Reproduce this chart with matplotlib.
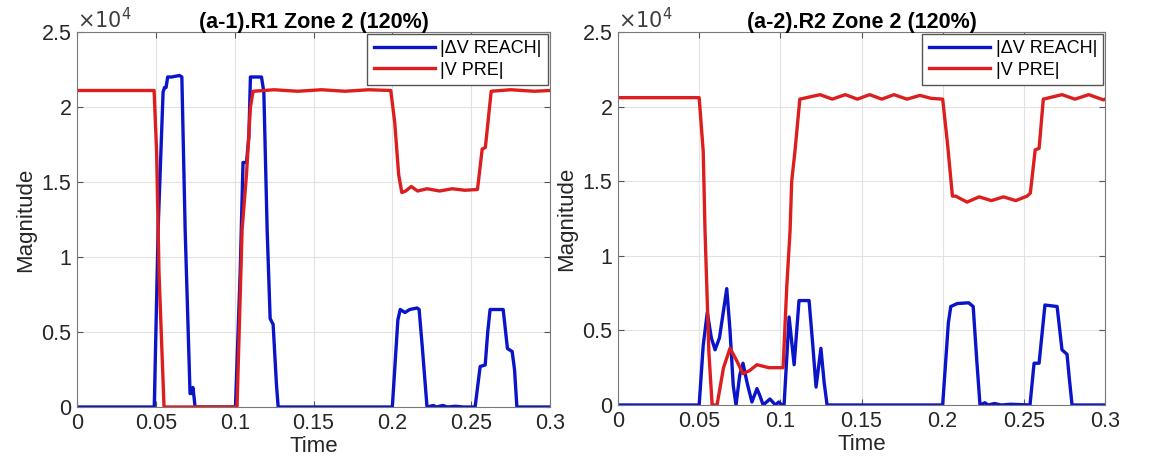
import matplotlib
matplotlib.use('Agg')
from matplotlib import pyplot as plt
from matplotlib.ticker import FuncFormatter

plt.rcParams['font.family'] = ['Liberation Sans', 'DejaVu Sans']

# (a-1) R1 zone 2
t_reach_1 = [0, 0.049, 0.0515, 0.0546, 0.0555, 0.0565, 0.0575, 0.060, 0.065, 0.0665,
             0.0686, 0.0717, 0.0728, 0.0735, 0.0742, 0.0749, 0.1005, 0.1035, 0.1053,
             0.1075, 0.109, 0.110, 0.117, 0.1185, 0.1206, 0.1225, 0.1244, 0.1265, 0.1276,
             0.200, 0.2035, 0.205, 0.208, 0.211, 0.2157, 0.217, 0.219, 0.222, 0.226, 0.228,
             0.232, 0.235, 0.240, 0.245, 0.2525, 0.2557, 0.2589, 0.2605, 0.262, 0.2703,
             0.273, 0.276, 0.2775, 0.279, 0.3]
v_reach_1 = [0, 0, 12000, 21000, 21300, 21300, 22000, 22000, 22100, 22000,
             11800, 900, 900, 1300, 700, 0, 0, 9000, 16300,
             16300, 18000, 22000, 22000, 21000, 11800, 5900, 5500, 1500, 0,
             0, 5800, 6500, 6300, 6500, 6600, 6500, 4000, 0, 100, 0,
             100, 0, 50, 0, 0, 2700, 2800, 5000, 6500, 6500,
             3900, 3700, 2500, 0, 0]

t_pre_1 = [0, 0.0489, 0.0505, 0.052, 0.0552, 0.1015, 0.1047, 0.1075, 0.110, 0.1117,
           0.125, 0.14, 0.155, 0.17, 0.185, 0.199, 0.2015, 0.204, 0.206, 0.2085,
           0.212, 0.216, 0.222, 0.230, 0.238, 0.246, 0.254, 0.257, 0.259, 0.2627,
           0.275, 0.29, 0.3]
v_pre_1 = [21100, 21100, 17000, 9000, 0, 0, 11800, 15500, 20000, 21050,
           21150, 21050, 21150, 21050, 21150, 21100, 19000, 15500, 14300, 14400,
           14700, 14400, 14550, 14400, 14550, 14450, 14500, 17200, 17300, 21050,
           21150, 21050, 21100]

# (a-2) R2 zone 2
t_reach_2 = [0, 0.050, 0.0525, 0.055, 0.0575, 0.0598, 0.0625, 0.067, 0.069, 0.071,
             0.0727, 0.075, 0.077, 0.0795, 0.0825, 0.0856, 0.0875, 0.0894, 0.0936,
             0.097, 0.099, 0.101, 0.1023, 0.1054, 0.1085, 0.1115, 0.1177, 0.120, 0.122,
             0.125, 0.127, 0.1288, 0.200, 0.2035, 0.205, 0.209, 0.216, 0.2188, 0.221,
             0.223, 0.226, 0.228, 0.232, 0.236, 0.242, 0.2538, 0.2563, 0.2594, 0.263,
             0.2705, 0.2735, 0.2766, 0.278, 0.2797, 0.3]
v_reach_2 = [0, 0, 4000, 6200, 4500, 3700, 4500, 7800, 5000, 1300,
             0, 2000, 2800, 1500, 200, 1100, 600, 0, 400,
             0, 200, 0, 0, 5900, 2700, 7000, 7000, 4000, 1200,
             3800, 1500, 0, 0, 5500, 6600, 6800, 6850, 6600, 3000,
             0, 150, 0, 100, 0, 50, 0, 2800, 2800, 6700,
             6600, 3700, 3400, 1800, 0, 0]

t_pre_2 = [0, 0.050, 0.0525, 0.0536, 0.056, 0.058, 0.061, 0.065, 0.069, 0.073,
           0.077, 0.081, 0.0856, 0.093, 0.1017, 0.104, 0.106, 0.107, 0.109, 0.112,
           0.1245, 0.132, 0.140, 0.1475, 0.155, 0.1625, 0.170, 0.178, 0.186, 0.193,
           0.2, 0.203, 0.206, 0.208, 0.215, 0.2225, 0.230, 0.2375, 0.245, 0.252,
           0.254, 0.257, 0.2594, 0.262, 0.2735, 0.2815, 0.290, 0.299, 0.3]
v_pre_2 = [20600, 20600, 17000, 11700, 3500, 0, 0, 2500, 3800, 3000,
           2100, 2300, 2700, 2500, 2500, 8000, 11700, 15000, 17000, 20500,
           20800, 20500, 20800, 20500, 20800, 20500, 20800, 20500, 20750, 20550,
           20500, 17500, 14000, 14000, 13600, 13950, 13700, 13950, 13700, 14000,
           14200, 17100, 17200, 20500, 20800, 20500, 20800, 20450, 20500]

panels = [
    ('(a-1).R1 Zone 2 (120%)', t_reach_1, v_reach_1, t_pre_1, v_pre_1,
     [77/1157, 60/467, 473/1157, 375/467]),
    ('(a-2).R2 Zone 2 (120%)', t_reach_2, v_reach_2, t_pre_2, v_pre_2,
     [618/1157, 62/467, 487/1157, 373/467]),
]

fig = plt.figure(figsize=(11.57, 4.67), dpi=100)
for title, tr, vr, tp, vp, pos in panels:
    ax = fig.add_axes(pos)
    ax.plot(tr, vr, color='#0a14c8', lw=2.4, label='|\u0394V REACH|')
    ax.plot(tp, vp, color='#dc1e1e', lw=2.4, label='|V PRE|')
    ax.set_xlim(0, 0.3)
    ax.set_ylim(0, 25000)
    ax.set_xticks([0, 0.05, 0.1, 0.15, 0.2, 0.25, 0.3])
    ax.set_xticklabels(['0', '0.05', '0.1', '0.15', '0.2', '0.25', '0.3'])
    ax.set_yticks([0, 5000, 10000, 15000, 20000, 25000])
    ax.yaxis.set_major_formatter(FuncFormatter(lambda v, p: '%g' % (v / 1e4)))
    ax.grid(True, color='#e2e2e2', lw=0.8)
    ax.set_axisbelow(True)
    ax.tick_params(direction='in', top=True, right=True, labelsize=15.5,
                   color='#555555', labelcolor='#262626', length=4, pad=4)
    for s in ax.spines.values():
        s.set_color('#7a7a7a')
    ax.set_title(title, fontsize=15.5, fontweight='bold', pad=3)
    ax.set_xlabel('Time', fontsize=16, color='#262626', labelpad=2)
    ax.set_ylabel('Magnitude', fontsize=16, color='#262626', labelpad=4)
    ax.text(0.0, 1.0, r'$\times10^{4}$', transform=ax.transAxes, fontsize=15,
            color='#404040', ha='left', va='bottom')
    leg = ax.legend(loc='upper right', fontsize=13, fancybox=False, framealpha=1,
                    edgecolor='#555555', borderaxespad=0.1, handlelength=3.4,
                    labelspacing=0.25, borderpad=0.35, handletextpad=0.3)
    leg.get_frame().set_linewidth(1.0)

fig.savefig('out.png', dpi=100)
